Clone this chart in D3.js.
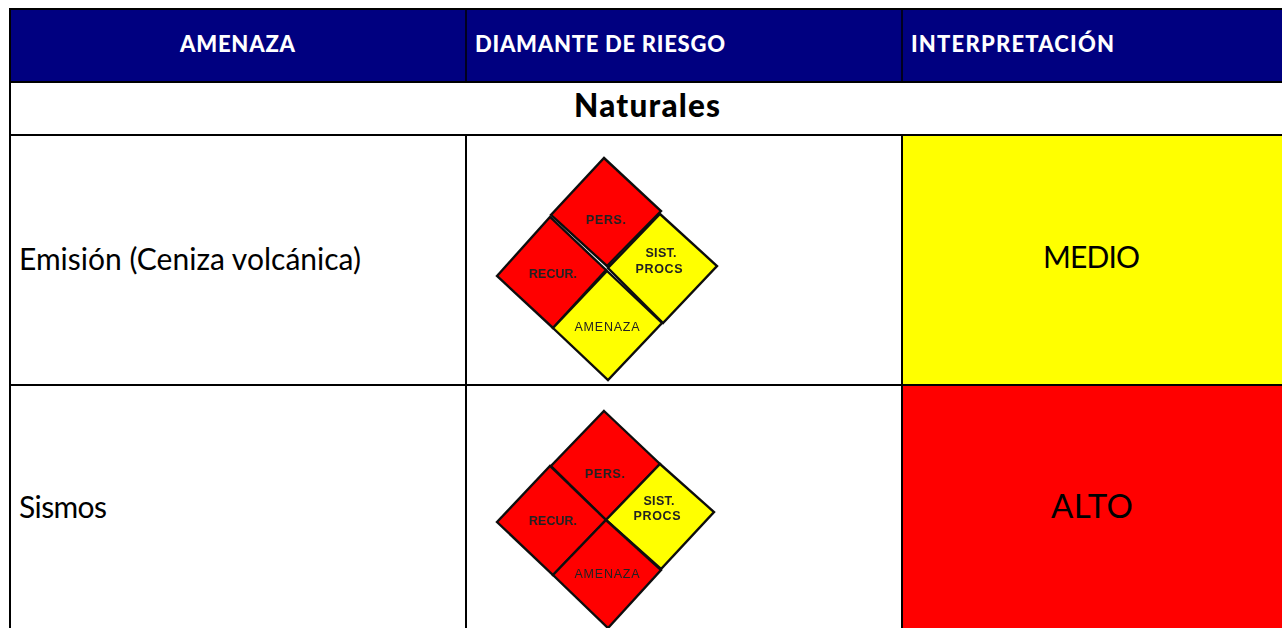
<!DOCTYPE html>
<html>
<head>
<meta charset="utf-8">
<script src="https://cdn.jsdelivr.net/npm/d3@7/dist/d3.min.js"></script>
<style>
    html, body { margin: 0; padding: 0; background: #fff; overflow: hidden; }
    svg { display: block; }
    text { font-family: Lato, "Noto Sans", sans-serif; fill: #000; }
    .head { font-weight: 900; font-size: 22px; fill: #fff; }
    .quad { font-family: "Liberation Sans", Arial, sans-serif; font-size: 12.5px; fill: #222; text-anchor: middle; }
</style>
</head>
<body>
<svg></svg>
<script>
// table content
let headers = ["AMENAZA", "DIAMANTE DE RIESGO", "INTERPRETACIÓN"];
let groupName = "Naturales";
let threats = ["Emisión (Ceniza volcánica)", "Sismos"];
let interpretation = ["MEDIO", "ALTO"];
let personas = ["ALTO", "ALTO"];
let recursos = ["ALTO", "ALTO"];
let sistemas = ["MEDIO", "MEDIO"];
let amenazas = ["MEDIO", "ALTO"];

let width = 1282, height = 628;
let svg = d3.select("svg").attr("width", width).attr("height", height);

let color = d3.scaleOrdinal().domain(["MEDIO", "ALTO"]).range(["#ffff00", "#ff0000"]);

// row and column edges of the table
let colX = d3.scaleOrdinal().domain([0, 1, 2, 3]).range([10, 466, 902, 1290]);
let rowY = d3.scaleOrdinal().domain(["top", "head", "group", 0, 1]).range([9, 82, 135, 385, 640]);

// the pasted diamonds are slightly crooked, so each quadrant has its own outline
let shapes = [
    {
        pers: [[604, 158], [661, 211], [607, 266], [551, 215]],
        recur: [[497, 276], [550, 217], [606, 270], [553, 328]],
        sist: [[660, 214], [717, 266], [663, 323], [608, 268]],
        amen: [[607, 271], [662, 323], [608, 380], [553, 328]],
        labels: {pers: [[606, 224]], recur: [[553, 278]], sist: [[661, 257], [659, 273]], amen: [[607, 331]]}
    },
    {
        pers: [[604, 411], [660, 464], [606, 520], [551, 466]],
        recur: [[497, 522], [550, 466], [606, 520], [553, 575]],
        sist: [[660, 464], [714, 512], [661, 569], [606, 520]],
        amen: [[606, 520], [661, 570], [608, 628], [553, 575]],
        labels: {pers: [[605, 478]], recur: [[553, 525]], sist: [[659, 505], [657, 520]], amen: [[607, 578]]}
    }
];

let quadNames = {pers: ["PERS."], recur: ["RECUR."], sist: ["SIST.", "PROCS"], amen: ["AMENAZA"]};
let quadLevels = {pers: personas, recur: recursos, sist: sistemas, amen: amenazas};
let quadBold = {pers: 700, recur: 700, sist: 700, amen: 400};
let quadWidth = {pers: [40], recur: [48], sist: [31, 47], amen: [65]};

// fills
svg.append("rect")
    .attr("x", colX(0)).attr("y", rowY("top"))
    .attr("width", width).attr("height", rowY("head") - rowY("top"))
    .attr("fill", "#000080");

svg.selectAll(".level")
    .data(interpretation)
    .enter().append("rect")
    .attr("class", "level")
    .attr("x", colX(2))
    .attr("y", function(d, i) { return i === 0 ? rowY("group") : rowY(i - 1); })
    .attr("width", colX(3) - colX(2))
    .attr("height", function(d, i) { return rowY(i) - (i === 0 ? rowY("group") : rowY(i - 1)); })
    .attr("fill", function(d) { return color(d); });

// grid lines
let grid = svg.append("g").attr("stroke", "#000").attr("stroke-width", 2);
["top", "head", "group", 0].forEach(function(r) {
    grid.append("line").attr("x1", colX(0) - 1).attr("x2", width).attr("y1", rowY(r)).attr("y2", rowY(r));
});
grid.append("line").attr("x1", colX(0)).attr("x2", colX(0)).attr("y1", rowY("top")).attr("y2", height);
[1, 2].forEach(function(c) {
    grid.append("line").attr("x1", colX(c)).attr("x2", colX(c))
        .attr("y1", rowY("top")).attr("y2", rowY("head")).attr("stroke-width", 1.5);
    grid.append("line").attr("x1", colX(c)).attr("x2", colX(c))
        .attr("y1", rowY("group")).attr("y2", height);
});

// header
let headX = [180, 475, 911];
let headW = [115, 250, 203];
svg.selectAll(".head")
    .data(headers)
    .enter().append("text")
    .attr("class", "head")
    .attr("x", function(d, i) { return headX[i]; })
    .attr("y", 52)
    .attr("textLength", function(d, i) { return headW[i]; })
    .text(function(d) { return d; });

svg.append("text")
    .attr("x", 574).attr("y", 117)
    .attr("textLength", 146)
    .style("font-weight", 900).style("font-size", "31.5px")
    .text(groupName);

// threat names and levels
let threatY = [270, 518];
let threatW = [342, 88];
svg.selectAll(".threat")
    .data(threats)
    .enter().append("text")
    .attr("class", "threat")
    .attr("x", 19)
    .attr("y", function(d, i) { return threatY[i]; })
    .attr("textLength", function(d, i) { return threatW[i]; })
    .style("font-size", "30px")
    .text(function(d) { return d; });

let interpX = [1043, 1051];
let interpY = [268, 518];
let interpW = [97, 82];
let interpSize = [30, 33];
svg.selectAll(".interp")
    .data(interpretation)
    .enter().append("text")
    .attr("class", "interp")
    .attr("x", function(d, i) { return interpX[i]; })
    .attr("y", function(d, i) { return interpY[i]; })
    .attr("textLength", function(d, i) { return interpW[i]; })
    .style("font-size", function(d, i) { return interpSize[i] + "px"; })
    .text(function(d) { return d; });

// the diamonds are soft in the original, they were pasted in as pictures
svg.append("filter").attr("id", "soft")
    .append("feGaussianBlur").attr("stdDeviation", 0.4);

let outline = d3.line().curve(d3.curveLinearClosed);
shapes.forEach(function(shape, i) {
    let g = svg.append("g").attr("filter", "url(#soft)");
    Object.keys(quadNames).forEach(function(q) {
        g.append("path")
            .attr("d", outline(shape[q]))
            .attr("fill", color(quadLevels[q][i]))
            .attr("stroke", "#111")
            .attr("stroke-width", 2.4)
            .attr("stroke-linejoin", "miter");
    });
    Object.keys(quadNames).forEach(function(q) {
        quadNames[q].forEach(function(name, k) {
            g.append("text")
                .attr("class", "quad")
                .attr("x", shape.labels[q][k][0])
                .attr("y", shape.labels[q][k][1])
                .attr("textLength", quadWidth[q][k])
                .style("font-weight", quadBold[q])
                .text(name);
        });
    });
});
</script>
</body>
</html>
